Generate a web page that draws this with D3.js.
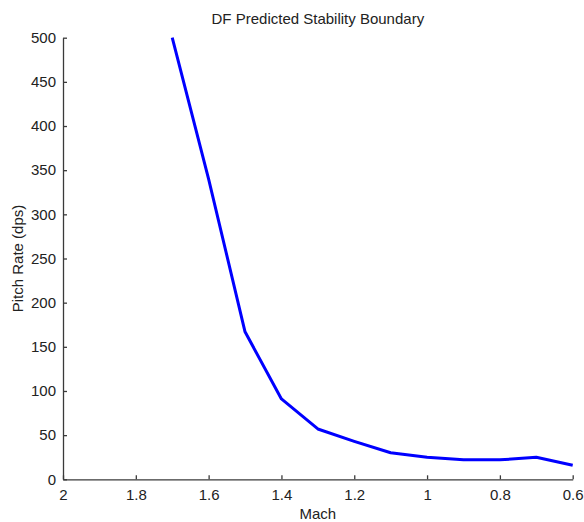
<!DOCTYPE html>
<html>
<head>
<meta charset="utf-8">
<script src="https://cdn.jsdelivr.net/npm/d3@7"></script>
<style>
  html, body { margin: 0; padding: 0; background: #fff; }
  svg { display: block; }
  text { font-family: "Liberation Sans", Arial, sans-serif; fill: #222; }
</style>
</head>
<body>
<svg id="chart" width="584" height="522"></svg>
<script>
const mach = [1.7, 1.6, 1.5, 1.4, 1.3, 1.2, 1.1, 1.0, 0.9, 0.8, 0.7, 0.6];
const pitchRate = [500, 340, 167, 91, 57, 43, 30, 25, 22, 22, 25, 16];
const xTicks = [2, 1.8, 1.6, 1.4, 1.2, 1, 0.8, 0.6];
const yTicks = [0, 50, 100, 150, 200, 250, 300, 350, 400, 450, 500];
const title = "DF Predicted Stability Boundary";
const xLabel = "Mach";
const yLabel = "Pitch Rate (dps)";

const W = 584, H = 522;
const m = { left: 63, right: 11.3, top: 37.7, bottom: 42.7 };
const svg = d3.select("#chart");

const x = d3.scaleLinear().domain([2, 0.6]).range([m.left, W - m.right]);
const y = d3.scaleLinear().domain([0, 500]).range([H - m.bottom, m.top]);

const axisColor = "#3a3a3a";

const gx = svg.append("g").attr("transform", `translate(0,${H - m.bottom})`)
  .call(d3.axisBottom(x).tickValues(xTicks).tickFormat(d3.format("~g")).tickSizeInner(-4).tickSizeOuter(0).tickPadding(10));
const gy = svg.append("g").attr("transform", `translate(${m.left},0)`)
  .call(d3.axisLeft(y).tickValues(yTicks).tickSizeInner(-4).tickSizeOuter(0).tickPadding(7));

[gx, gy].forEach(g => {
  g.select(".domain").attr("stroke", axisColor).attr("stroke-width", 1.3);
  g.selectAll(".tick line").attr("stroke", axisColor).attr("stroke-width", 1.3);
  g.selectAll(".tick text").attr("font-size", 15).attr("font-family", "Liberation Sans, Arial, sans-serif").attr("fill", "#222");
});

const line = d3.line().x((d, i) => x(mach[i])).y(d => y(d));
svg.append("path").datum(pitchRate)
  .attr("d", line)
  .attr("fill", "none")
  .attr("stroke", "#0000ff")
  .attr("stroke-width", 3)
  .attr("stroke-linejoin", "round");

svg.append("text").attr("x", (m.left + W - m.right) / 2).attr("y", 24)
  .attr("text-anchor", "middle").attr("font-size", 15).text(title);

svg.append("text").attr("x", (m.left + W - m.right) / 2).attr("y", 519)
  .attr("text-anchor", "middle").attr("font-size", 15).text(xLabel);

svg.append("text")
  .attr("transform", `translate(23,${(m.top + H - m.bottom) / 2}) rotate(-90)`)
  .attr("text-anchor", "middle").attr("font-size", 15).text(yLabel);
</script>
</body>
</html>
